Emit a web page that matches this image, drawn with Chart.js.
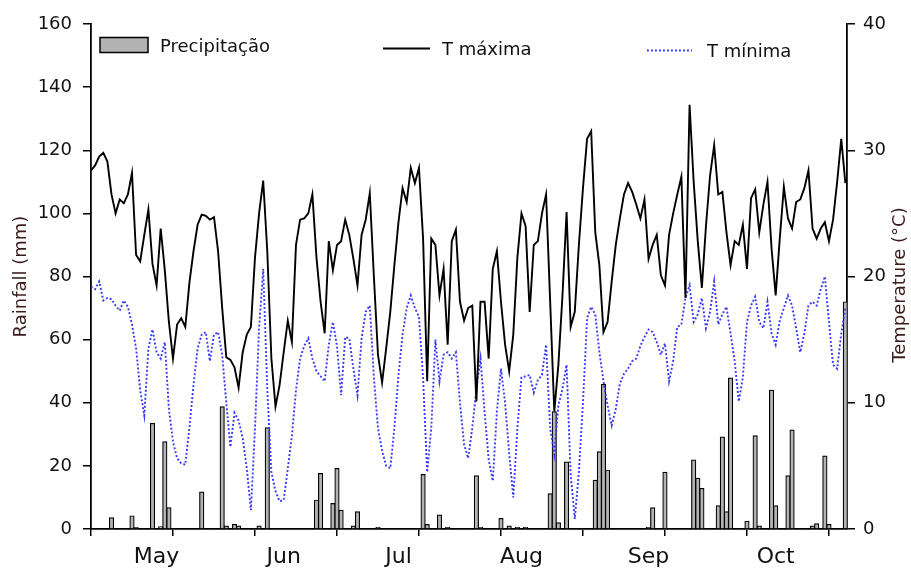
<!DOCTYPE html>
<html>
<head>
<meta charset="utf-8">
<title>Precipitação e temperatura</title>
<script src="https://cdn.jsdelivr.net/npm/chart.js@4.4.1/dist/chart.umd.min.js"></script>
<style>
  html, body { margin: 0; padding: 0; background: #fff; }
  canvas { display: block; }
</style>
</head>
<body>
<canvas id="climaChart" width="911" height="570"></canvas>
<script>
// day of year: 30 Apr (120) .. 31 Oct (304)
var firstDay = 120;
var lastDay = 304;

// daily maximum temperature (°C), one value per day
var tMax = [
  28.4, 28.8, 29.5, 29.8, 29.1, 26.5, 25.0, 26.1, 25.8, 26.5,
  28.2, 21.7, 21.2, 23.3, 25.3, 21.0, 19.3, 23.8, 20.5, 16.4,
  13.5, 16.2, 16.7, 16.0, 19.5, 22.0, 24.1, 24.9, 24.8, 24.5,
  24.7, 22.0, 17.5, 13.6, 13.4, 12.8, 11.2, 14.0, 15.4, 16.0,
  21.5, 25.0, 27.6, 22.0, 13.5, 9.7, 11.4, 14.0, 16.5, 14.8,
  22.5, 24.5, 24.6, 25.0, 26.5, 21.5, 18.0, 15.5, 22.8, 20.5,
  22.5, 22.8, 24.5, 23.3, 21.4, 19.3, 23.3, 24.5, 26.6, 20.0,
  13.8, 11.6, 14.3, 17.2, 20.9, 24.3, 27.0, 25.9, 28.6, 27.4,
  28.6, 23.0, 11.7, 23.0, 22.5, 18.5, 20.6, 14.6, 22.8, 23.7,
  18.0, 16.5, 17.5, 17.7, 10.1, 18.0, 18.0, 13.5, 20.6, 22.0,
  18.0, 14.6, 12.5, 15.4, 21.5, 25.0, 24.0, 17.2, 22.5, 22.8,
  25.0, 26.5, 18.0, 9.3, 13.0, 18.5, 25.1, 16.0, 17.2, 22.5,
  27.0, 30.9, 31.5, 23.5, 20.9, 15.6, 16.4, 19.6, 22.5, 24.6,
  26.5, 27.4, 26.7, 25.7, 24.6, 26.1, 21.4, 22.5, 23.3, 20.1,
  19.3, 23.3, 25.0, 26.5, 27.9, 18.3, 33.6, 27.5, 22.8, 19.1,
  24.0, 28.0, 30.4, 26.5, 26.7, 23.5, 20.9, 22.8, 22.5, 24.1,
  20.6, 26.2, 26.9, 23.5, 25.7, 27.5, 22.2, 18.5, 23.0, 27.1,
  24.6, 23.8, 25.9, 26.1, 27.0, 28.4, 23.8, 23.0, 23.8, 24.3,
  22.8, 24.5, 27.5, 30.9, 27.4
];

// daily minimum temperature (°C)
var tMin = [
  19.2, 19.0, 19.6, 18.1, 18.3, 18.2, 17.7, 17.3, 18.1, 17.6,
  16.2, 14.3, 11.0, 9.0, 14.3, 15.8, 14.0, 13.5, 14.8, 9.5,
  6.9, 5.6, 5.2, 5.1, 8.0, 11.4, 14.3, 15.4, 15.6, 13.3,
  15.4, 15.6, 13.8, 10.0, 6.5, 9.2, 8.6, 7.2, 4.8, 1.5,
  8.0, 15.9, 20.6, 11.0, 4.5, 3.0, 2.2, 2.3, 4.8, 7.4,
  11.0, 13.5, 14.5, 15.1, 13.5, 12.5, 12.1, 11.7, 14.6, 16.4,
  14.5, 10.6, 15.2, 15.1, 12.7, 10.6, 15.1, 17.2, 17.7, 12.0,
  8.0, 6.2, 5.0, 4.8, 8.0, 12.2, 15.4, 17.5, 18.5, 17.5,
  16.8, 11.9, 4.5, 8.0, 15.0, 11.7, 13.8, 14.0, 13.5, 14.0,
  10.0, 6.7, 5.6, 8.0, 11.1, 13.5, 9.3, 5.5, 3.8, 9.3,
  12.7, 10.0, 6.0, 2.5, 8.0, 12.0, 12.1, 12.2, 10.8, 11.8,
  12.2, 14.6, 8.0, 5.9, 9.8, 11.1, 13.0, 4.3, 0.8, 4.5,
  10.0, 16.7, 17.6, 17.0, 14.0, 11.7, 9.8, 8.2, 9.5, 11.5,
  12.3, 12.7, 13.3, 13.5, 14.5, 15.2, 15.8, 15.6, 14.8, 13.8,
  14.7, 11.7, 13.3, 16.0, 16.2, 18.3, 19.3, 16.4, 17.0, 18.3,
  15.9, 17.2, 19.6, 16.2, 17.0, 17.6, 15.5, 13.3, 10.1, 12.0,
  16.4, 17.7, 18.4, 16.4, 15.9, 18.0, 15.5, 14.6, 16.5, 17.5,
  18.5, 17.7, 15.9, 14.0, 15.5, 17.7, 18.0, 17.7, 19.0, 20.0,
  16.4, 13.0, 12.7, 15.5, 17.5
];

// rainy days only (day of year) and their rainfall (mm)
var rainDays = [
  125, 130, 131, 135, 137, 138, 139, 147, 152, 153,
  155, 156, 161, 163, 175, 176, 179, 180, 181, 184,
  185, 190, 201, 202, 205, 207, 214, 215, 220, 222,
  224, 226, 232, 233, 234, 236, 243, 244, 245, 246,
  256, 257, 260, 267, 268, 269, 273, 274, 275, 276,
  280, 282, 283, 286, 287, 290, 291, 296, 297, 299,
  300, 304
];
var rainMm = [
  3.6, 4.2, 0.5, 33.5, 0.8, 27.7, 6.8, 11.8, 38.8, 1.0,
  1.5, 1.0, 1.0, 32.1, 9.2, 17.6, 8.1, 19.2, 6.0, 1.0,
  5.5, 0.5, 17.3, 1.5, 4.5, 0.5, 16.9, 0.5, 3.4, 1.0,
  0.5, 0.5, 11.2, 37.2, 2.0, 21.3, 15.5, 24.5, 45.8, 18.7,
  0.5, 6.8, 18.0, 21.9, 16.1, 12.9, 7.4, 29.2, 5.5, 47.9,
  2.5, 29.6, 1.0, 44.0, 7.4, 16.9, 31.4, 1.0, 1.7, 23.2,
  1.5, 72.0
];

var monthNames = ['May', 'Jun', 'Jul', 'Aug', 'Sep', 'Oct'];
var monthMid = [136, 167, 195, 225, 256, 287];
var dayTicks = [120, 140, 160, 180, 200, 220, 240, 260, 280, 300];
var rainTicks = [0, 20, 40, 60, 80, 100, 120, 140, 160];
var tempTicks = [0, 10, 20, 30, 40];
var leftTitle = 'Rainfall (mm)';
var rightTitle = 'Temperature (°C)';

var days = [];
for (var d = firstDay; d <= lastDay; d++) days.push(d);

var fontFamily = '"DejaVu Sans", sans-serif';
var inkColor = '#111';
var titleColor = '#3a1c1c';

// legend sits inside the plot, spread over the top
var keyX = [100, 383, 647];
var keyY = [45, 48.5, 50.5];
var keyW = [48, 47, 45];
var keyGap = [12, 12, 15];

var overlay = {
  id: 'overlay',
  afterDraw: function(chart) {
    var c = chart.ctx;
    c.save();
    c.font = '18px ' + fontFamily;

    // right axis title, reading bottom to top like the left one
    c.save();
    c.translate(900, 285);
    c.rotate(-Math.PI / 2);
    c.textAlign = 'center';
    c.textBaseline = 'middle';
    c.fillStyle = titleColor;
    c.fillText(rightTitle, 0, 0);
    c.restore();

    chart.data.datasets.forEach(function(ds, i) {
      var x = keyX[i], y = keyY[i], w = keyW[i];
      if (ds.type === 'bar') {
        c.fillStyle = ds.backgroundColor;
        c.fillRect(x, y - 7.5, w, 15);
        c.strokeStyle = '#000';
        c.lineWidth = 1.5;
        c.strokeRect(x, y - 7.5, w, 15);
      } else {
        c.strokeStyle = ds.borderColor;
        c.lineWidth = ds.borderWidth;
        c.setLineDash(ds.borderDash || []);
        c.beginPath();
        c.moveTo(x, y);
        c.lineTo(x + w, y);
        c.stroke();
        c.setLineDash([]);
      }
      c.fillStyle = inkColor;
      c.textAlign = 'left';
      c.textBaseline = 'alphabetic';
      c.fillText(ds.label, x + w + keyGap[i], y + 6.5);
    });
    c.restore();
  }
};

var axisLine = { display: true, color: '#000', width: 1.8 };

var ctx = document.getElementById('climaChart').getContext('2d');
var chart = new Chart(ctx, {
  type: 'bar',
  data: {
    labels: days,
    datasets: [
      {
        type: 'bar',
        label: 'Precipitação',
        data: rainDays.map(function(d, i) { return { x: d, y: rainMm[i] }; }),
        xAxisID: 'x',
        yAxisID: 'y',
        backgroundColor: '#b3b3b3',
        borderColor: '#000',
        borderWidth: 1.2,
        barThickness: 4.5,
        order: 2
      },
      {
        type: 'line',
        label: 'T máxima',
        data: tMax,
        xAxisID: 'x',
        yAxisID: 'yT',
        borderColor: '#000',
        borderWidth: 1.9,
        pointRadius: 0,
        tension: 0,
        order: 0
      },
      {
        type: 'line',
        label: 'T mínima',
        data: tMin,
        xAxisID: 'x',
        yAxisID: 'yT',
        borderColor: '#3535ff',
        borderWidth: 1.9,
        borderDash: [1.9, 2.1],
        pointRadius: 0,
        tension: 0,
        order: 1
      }
    ]
  },
  options: {
    responsive: false,
    animation: false,
    layout: { padding: { top: 24, left: 0, right: 0, bottom: 0 } },
    plugins: {
      legend: { display: false },
      tooltip: { enabled: false }
    },
    scales: {
      x: {
        type: 'linear',
        axis: 'x',
        position: 'bottom',
        weight: 0,
        min: firstDay,
        max: 304.4,
        offset: false,
        afterBuildTicks: function(s) { s.ticks = dayTicks.map(function(v) { return { value: v }; }); },
        afterFit: function(s) { s.height = 8; },
        grid: { display: true, drawOnChartArea: false, drawTicks: true, tickLength: 7, color: '#000', lineWidth: 1.5, offset: false },
        border: axisLine,
        ticks: { autoSkip: false, maxRotation: 0, callback: function() { return ''; } }
      },
      xm: {
        type: 'linear',
        axis: 'x',
        position: 'bottom',
        weight: 1,
        min: firstDay,
        max: 304.4,
        offset: false,
        afterBuildTicks: function(s) { s.ticks = monthMid.map(function(v) { return { value: v }; }); },
        afterFit: function(s) { s.height = 33; },
        grid: { display: false, drawTicks: false },
        border: { display: false },
        ticks: {
          autoSkip: false,
          maxRotation: 0,
          padding: 7,
          color: inkColor,
          font: { family: fontFamily, size: 22 },
          callback: function(v) { return monthNames[monthMid.indexOf(v)]; }
        }
      },
      y: {
        type: 'linear',
        position: 'left',
        min: 0,
        max: 160,
        afterBuildTicks: function(s) { s.ticks = rainTicks.map(function(v) { return { value: v }; }); },
        afterFit: function(s) { s.width = 91; },
        grid: { drawOnChartArea: false, tickLength: 8, color: '#000', lineWidth: 1.5 },
        border: axisLine,
        ticks: { padding: 11, color: inkColor, font: { family: fontFamily, size: 18 } },
        title: {
          display: true,
          text: leftTitle,
          color: titleColor,
          font: { family: fontFamily, size: 18 },
          padding: { top: 11, bottom: 0 }
        }
      },
      yT: {
        type: 'linear',
        position: 'right',
        min: 0,
        max: 40,
        afterBuildTicks: function(s) { s.ticks = tempTicks.map(function(v) { return { value: v }; }); },
        afterFit: function(s) { s.width = 64; },
        grid: { drawOnChartArea: false, tickLength: 8, color: '#000', lineWidth: 1.5 },
        border: axisLine,
        ticks: { padding: 8, color: inkColor, font: { family: fontFamily, size: 18 } }
      }
    }
  },
  plugins: [overlay]
});
</script>
</body>
</html>
